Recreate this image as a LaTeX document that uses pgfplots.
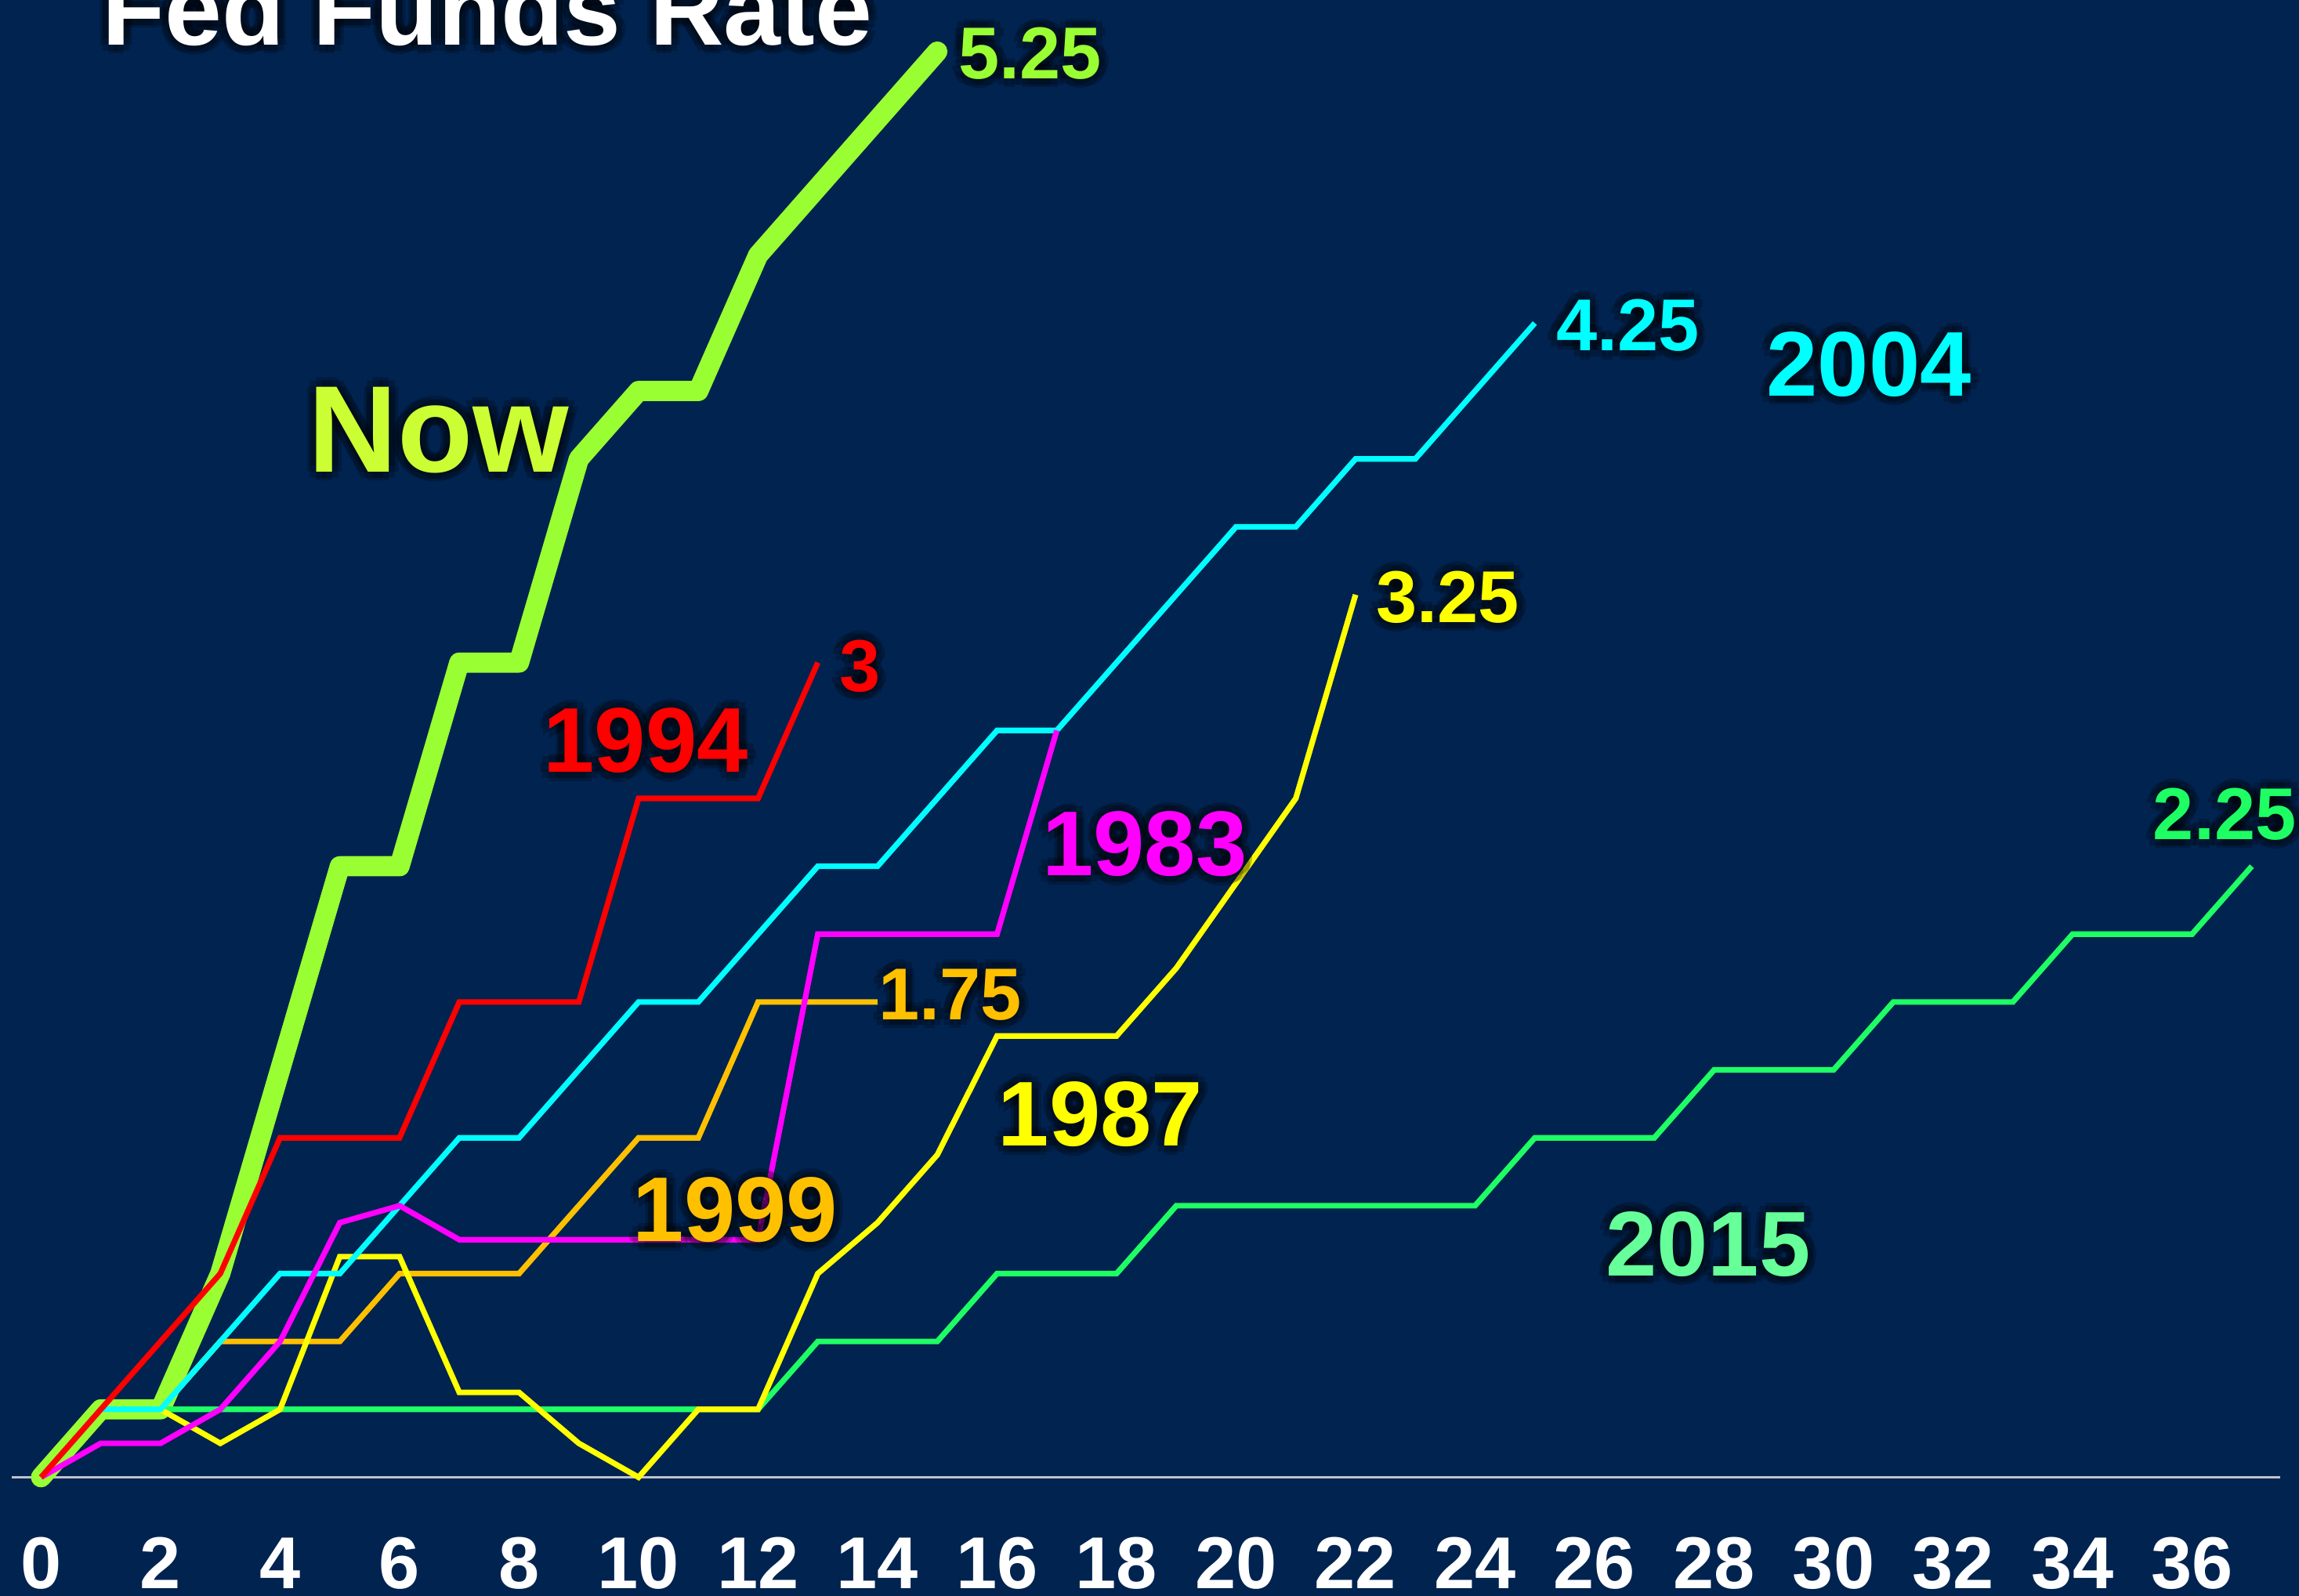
\documentclass[border=0pt]{standalone}
\usepackage{fontspec}
\setmainfont{Liberation Sans}
\usepackage{pgfplots}
\pgfplotsset{compat=1.18}
\definecolor{bg}{RGB}{0,35,80}
\definecolor{nowc}{RGB}{153,255,51}
\definecolor{nowl}{RGB}{204,255,51}
\definecolor{c1994}{RGB}{255,0,0}
\definecolor{c2004}{RGB}{0,255,255}
\definecolor{c1983}{RGB}{255,0,255}
\definecolor{c1999}{RGB}{255,192,0}
\definecolor{c1987}{RGB}{255,255,0}
\definecolor{c2015}{RGB}{30,255,100}
\definecolor{l2015}{RGB}{102,255,153}
\definecolor{axl}{RGB}{190,195,205}
\newcommand{\lbl}[5]{%
 \node[anchor=base west,inner sep=0pt,text=black,opacity=0.22,xshift=1.6pt] at (axis cs:#1,#2) {\fontsize{#4}{#4}\selectfont\bfseries #5};
 \node[anchor=base west,inner sep=0pt,text=black,opacity=0.22,xshift=-1.6pt] at (axis cs:#1,#2) {\fontsize{#4}{#4}\selectfont\bfseries #5};
 \node[anchor=base west,inner sep=0pt,text=black,opacity=0.22,yshift=1.6pt] at (axis cs:#1,#2) {\fontsize{#4}{#4}\selectfont\bfseries #5};
 \node[anchor=base west,inner sep=0pt,text=black,opacity=0.22,yshift=-1.6pt] at (axis cs:#1,#2) {\fontsize{#4}{#4}\selectfont\bfseries #5};
 \node[anchor=base west,inner sep=0pt,text=black,opacity=0.22,xshift=1.1pt,yshift=1.1pt] at (axis cs:#1,#2) {\fontsize{#4}{#4}\selectfont\bfseries #5};
 \node[anchor=base west,inner sep=0pt,text=black,opacity=0.22,xshift=-1.1pt,yshift=1.1pt] at (axis cs:#1,#2) {\fontsize{#4}{#4}\selectfont\bfseries #5};
 \node[anchor=base west,inner sep=0pt,text=black,opacity=0.22,xshift=1.1pt,yshift=-1.1pt] at (axis cs:#1,#2) {\fontsize{#4}{#4}\selectfont\bfseries #5};
 \node[anchor=base west,inner sep=0pt,text=black,opacity=0.22,xshift=-1.1pt,yshift=-1.1pt] at (axis cs:#1,#2) {\fontsize{#4}{#4}\selectfont\bfseries #5};
 \node[anchor=base west,inner sep=0pt,text=#3] at (axis cs:#1,#2) {\fontsize{#4}{#4}\selectfont\bfseries #5};
}
\begin{document}
\begin{tikzpicture}
\begin{axis}[
  scale only axis, width=14.404cm, height=10cm,
  xmin=-0.687, xmax=37.79, ymin=-0.437, ymax=5.440,
  axis line style={draw=none},
  axis background/.style={fill=bg},
  xtick={0,2,...,36}, ytick=\empty,
  major tick length=0pt, tick style={draw=none},
  xticklabel style={font=\bfseries\fontsize{13.1}{13.1}\selectfont, text=white, anchor=base, inner sep=0pt, yshift=0.045cm},
  /pgf/number format/assume math mode=true,
  clip=false,
]
\draw[color=axl, line width=0.45pt] (axis cs:-0.49,0) -- (axis cs:37.47,0);

% Now (2022)
\addplot[color=nowc, line width=3.6pt, line cap=round, line join=round, mark=none] coordinates {
(0,0) (1,0.25) (2,0.25) (3,0.75) (4,1.5) (5,2.25) (6,2.25) (7,3) (8,3) (9,3.75) (10,4) (11,4) (12,4.5) (13,4.75) (14,5) (15,5.25)};

% 2015
\addplot[color=c2015, line width=1pt, mark=none] coordinates {
(0,0) (1,0.25) (2,0.25) (3,0.25) (4,0.25) (5,0.25) (6,0.25) (7,0.25) (8,0.25) (9,0.25) (10,0.25) (11,0.25) (12,0.25) (13,0.5) (14,0.5) (15,0.5) (16,0.75) (17,0.75) (18,0.75) (19,1) (20,1) (21,1) (22,1) (23,1) (24,1) (25,1.25) (26,1.25) (27,1.25) (28,1.5) (29,1.5) (30,1.5) (31,1.75) (32,1.75) (33,1.75) (34,2) (35,2) (36,2) (37,2.25)};

% 1999
\addplot[color=c1999, line width=1pt, mark=none] coordinates {
(0,0) (1,0.25) (2,0.25) (3,0.5) (4,0.5) (5,0.5) (6,0.75) (7,0.75) (8,0.75) (9,1) (10,1.25) (11,1.25) (12,1.75) (13,1.75) (14,1.75)};

% 1987
\addplot[color=c1987, line width=1pt, mark=none] coordinates {
(0,0) (1,0.25) (2,0.25) (3,0.125) (4,0.25) (5,0.8125) (6,0.8125) (7,0.3125) (8,0.3125) (9,0.125) (10,0) (11,0.25) (12,0.25) (13,0.75) (14,0.9375) (15,1.1875) (16,1.625) (17,1.625) (18,1.625) (19,1.875) (20,2.1875) (21,2.5) (22,3.25)};

% 2004
\addplot[color=c2004, line width=1pt, mark=none] coordinates {
(0,0) (1,0.25) (2,0.25) (3,0.5) (4,0.75) (5,0.75) (6,1) (7,1.25) (8,1.25) (9,1.5) (10,1.75) (11,1.75) (12,2) (13,2.25) (14,2.25) (15,2.5) (16,2.75) (17,2.75) (18,3) (19,3.25) (20,3.5) (21,3.5) (22,3.75) (23,3.75) (24,4) (25,4.25)};

% 1983
\addplot[color=c1983, line width=1pt, mark=none] coordinates {
(0,0) (1,0.125) (2,0.125) (3,0.25) (4,0.5) (5,0.9375) (6,1) (7,0.875) (8,0.875) (9,0.875) (10,0.875) (11,0.875) (12,0.875) (13,2) (14,2) (15,2) (16,2) (17,2.75)};

% 1994
\addplot[color=c1994, line width=1pt, mark=none] coordinates {
(0,0) (1,0.25) (2,0.5) (3,0.75) (4,1.25) (5,1.25) (6,1.25) (7,1.75) (8,1.75) (9,1.75) (10,2.5) (11,2.5) (12,2.5) (13,3)};

\lbl{1.006}{5.275}{white}{18.3}{Fed Funds Rate}
\lbl{4.456}{3.702}{nowl}{22}{Now}
\lbl{8.39}{2.596}{c1994}{16.4}{1994}
\lbl{28.86}{3.982}{c2004}{16.4}{2004}
\lbl{16.74}{2.215}{c1983}{16.4}{1983}
\lbl{9.89}{0.867}{c1999}{16.4}{1999}
\lbl{16.0}{1.219}{c1987}{16.4}{1987}
\lbl{26.17}{0.742}{l2015}{16.4}{2015}
\lbl{15.34}{5.15}{nowc}{13.1}{5.25}
\lbl{13.34}{2.894}{c1994}{13.1}{3}
\lbl{22.33}{3.148}{c1987}{13.1}{3.25}
\lbl{14.0}{1.686}{c1999}{13.1}{1.75}
\lbl{25.34}{4.148}{c2004}{13.1}{4.25}
\lbl{35.33}{2.349}{c2015}{13.1}{2.25}

\coordinate (BL) at (rel axis cs:0,0);
\coordinate (TR) at (rel axis cs:1,1);
\end{axis}
\pgfresetboundingbox
\useasboundingbox (BL) rectangle (TR);
\end{tikzpicture}
\end{document}
